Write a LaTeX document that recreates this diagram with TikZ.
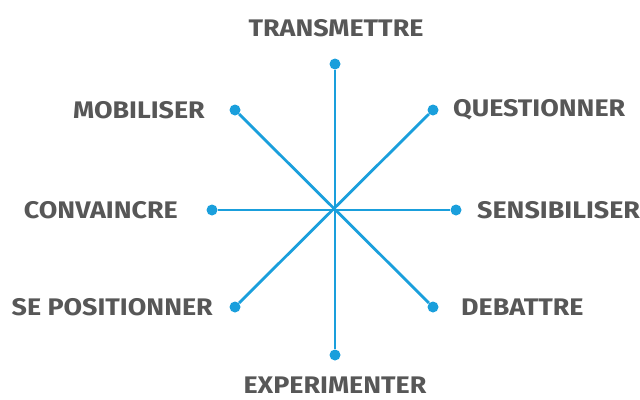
\documentclass[tikz,border=0pt]{standalone}
\usepackage{fontspec}
\setmainfont{Fira Sans}[FakeStretch=1.12]
\definecolor{lineblue}{HTML}{1A9FDC}
\definecolor{labelgray}{HTML}{575757}
\tikzset{
  dot/.style={circle,fill=lineblue,inner sep=0pt,minimum size=11pt},
  spoke/.style={lineblue,line width=2.8pt},
  verb/.style={labelgray,font=\bfseries\fontsize{24}{26}\selectfont,inner sep=0pt}
}
\begin{document}
\begin{tikzpicture}[x=1pt,y=-1pt]
\useasboundingbox (0,0) rectangle (640,399);
\node[dot] (n)  at (335,64)  {};
\node[dot] (s)  at (335,355) {};
\node[dot] (w)  at (212,210) {};
\node[dot] (e)  at (456,210) {};
\node[dot] (nw) at (235,110) {};
\node[dot] (ne) at (433,110) {};
\node[dot] (sw) at (235,307) {};
\node[dot] (se) at (433,307) {};
\draw[spoke] (n) -- (s);
\draw[spoke] (w) -- (e);
\draw[spoke] (nw) -- (se);
\draw[spoke] (ne) -- (sw);
\node[verb] (transmettre) at (336,28) {TRANSMETTRE};
\node[verb] (experimenter) at (335,385) {EXPERIMENTER};
\node[verb,anchor=east] (mobiliser) at (205,110) {MOBILISER};
\node[verb,anchor=east] (convaincre) at (178,210) {CONVAINCRE};
\node[verb,anchor=east] (positionner) at (213,307) {SE POSITIONNER};
\node[verb,anchor=west] (questionner) at (453,110) {QUESTIONNER};
\node[verb,anchor=west] (sensibiliser) at (477,210) {SENSIBILISER};
\node[verb,anchor=west] (debattre) at (461,307) {DEBATTRE};
\end{tikzpicture}
\end{document}
